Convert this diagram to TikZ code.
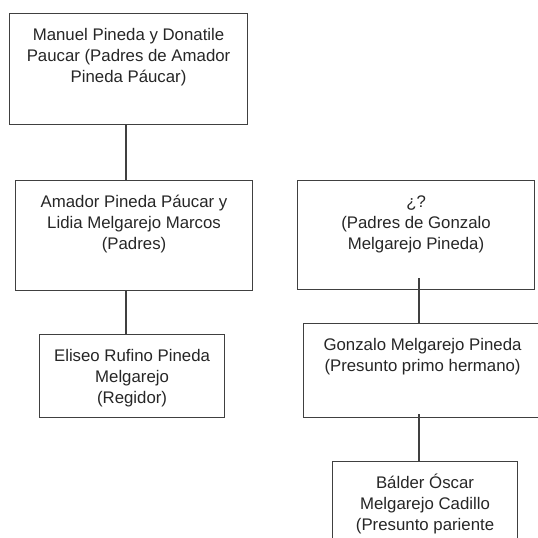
\documentclass[tikz,border=0pt]{standalone}
\usepackage{fontspec}
\setmainfont{Liberation Sans}
\usepackage{tikz}

\newcommand{\fichatexto}[3]{\parbox[t][#2][t]{#1}{\centering\strut #3}}

\begin{document}
\begin{tikzpicture}[x=1pt, y=-1pt,
    caja/.style={draw=black!75, line width=1.1pt, inner xsep=0pt, inner ysep=12.5pt,
      anchor=north west, text=black!85, font=\fontsize{16.8}{21}\selectfont},
    rama/.style={draw=black!75, line width=1.1pt}]
    \useasboundingbox (0,0) rectangle (538,538);
    \clip (0,0) rectangle (538,538);

    \node[caja] (abuelos) at (9,13) {\fichatexto{238pt}{86pt}{Manuel Pineda y Donatile\\ Paucar (Padres de Amador\\ Pineda Páucar)}};
    \node[caja] (padres) at (15,180) {\fichatexto{237pt}{85pt}{Amador Pineda Páucar y\\ Lidia Melgarejo Marcos\\ (Padres)}};
    \node[caja] (regidor) at (39,334) {\fichatexto{185pt}{58pt}{Eliseo Rufino Pineda\\ Melgarejo\\ (Regidor)}};

    \node[caja] (padresgonzalo) at (297,180) {\fichatexto{237pt}{84pt}{¿?\\ (Padres de Gonzalo\\ Melgarejo Pineda)}};
    \node[caja] (gonzalo) at (303,323) {\fichatexto{238pt}{69pt}{Gonzalo Melgarejo Pineda\\ (Presunto primo hermano)}};
    \node[caja] (balder) at (332,461) {\fichatexto{185pt}{114pt}{Bálder Óscar\\ Melgarejo Cadillo\\ (Presunto pariente}};

    \coordinate (ejeA) at (126,0);
    \coordinate (ejeB) at (419,0);

    \draw[rama] (abuelos.south -| ejeA) -- (padres.north -| ejeA);
    \draw[rama] (padres.south -| ejeA) -- (regidor.north -| ejeA);
    \draw[rama] ([yshift=12pt]padresgonzalo.south -| ejeB) -- (gonzalo.north -| ejeB);
    \draw[rama] ([yshift=4pt]gonzalo.south -| ejeB) -- (balder.north -| ejeB);
\end{tikzpicture}
\end{document}
